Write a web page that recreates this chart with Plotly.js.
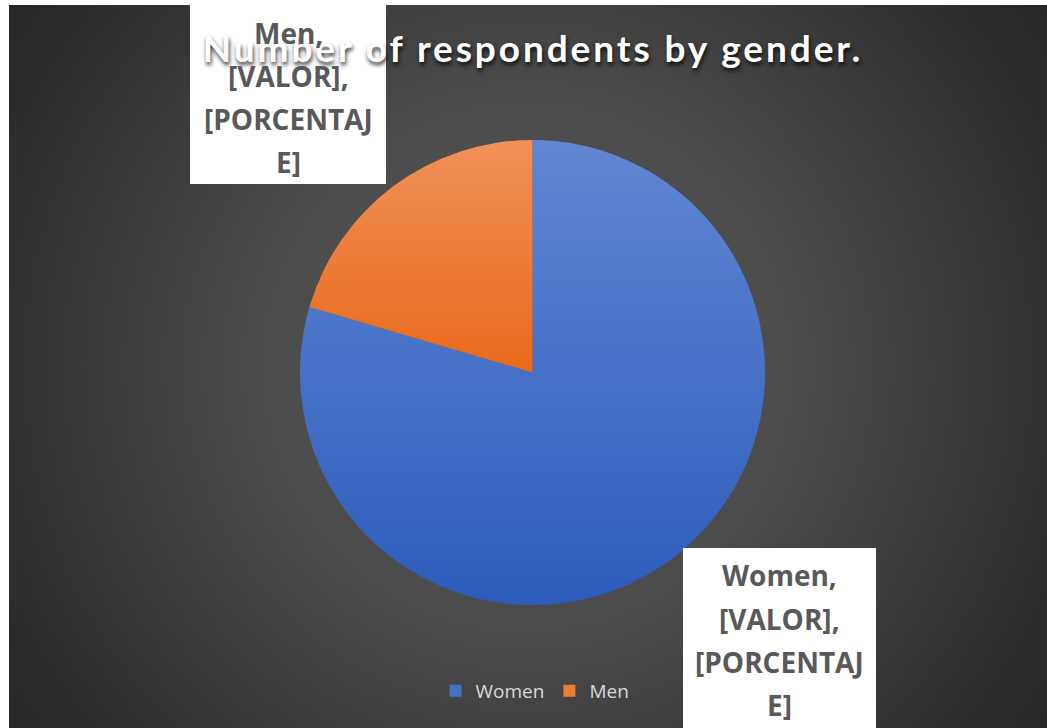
<!DOCTYPE html>
<html>
<head>
<meta charset="utf-8">
<script src="https://cdn.plot.ly/plotly-3.0.1.min.js"></script>
<style>
  html, body { margin: 0; padding: 0; background: #ffffff; }
  #wrap { position: relative; width: 1047px; height: 728px; overflow: hidden; background: #ffffff; }
  #bg { position: absolute; left: 9px; top: 5px; right: 0; bottom: 0;
        background: radial-gradient(circle farthest-corner at 50% 50%, #5a5a5a 0%, #4b4b4b 42%, #262626 100%); }
  #chart { position: absolute; left: 0; top: 0; width: 1047px; height: 728px; }
</style>
</head>
<body>
<div id="wrap">
  <div id="bg"></div>
  <div id="chart"></div>
</div>
<script>
// ---- data ----
var categories = ['Women', 'Men'];
var respondents = [35, 9];
var sliceColors = ['#4472C4', '#ED7D31'];
var labelPlaceholders = ['[VALOR],', '[PORCENTAJ', 'E]'];
var chartTitle = 'Number of respondents by gender.';

var W = 1047, H = 728;
function px(x) { return x / W; }
function py(y) { return 1 - y / H; }

var trace = {
  type: 'pie',
  labels: categories,
  values: respondents,
  sort: false,
  direction: 'clockwise',
  rotation: 0,
  textinfo: 'none',
  hoverinfo: 'label+value+percent',
  marker: { colors: sliceColors, line: { width: 0 } },
  domain: { x: [px(300), px(765)], y: [py(605), py(140)] },
  showlegend: true
};

// label boxes (white) and their lines
var boxes = [
  { cat: 1, x0: 190, x1: 386, y0: -2, y1: 184, lineY: [33, 76, 119, 162] },
  { cat: 0, x0: 683, x1: 876, y0: 548, y1: 740, lineY: [575, 618.5, 662, 705] }
];
var shapes = [];
var annotations = [];
boxes.forEach(function (b) {
  shapes.push({
    type: 'rect', xref: 'paper', yref: 'paper', layer: 'above',
    x0: px(b.x0), x1: px(b.x1), y0: py(b.y1), y1: py(b.y0),
    fillcolor: '#ffffff', line: { width: 0 }
  });
  var lines = [categories[b.cat] + ','].concat(labelPlaceholders);
  lines.forEach(function (t, i) {
    annotations.push({
      xref: 'paper', yref: 'paper',
      x: px((b.x0 + b.x1) / 2), y: py(b.lineY[i]),
      xanchor: 'center', yanchor: 'middle',
      text: t, showarrow: false,
      font: { family: 'Open Sans', size: 28, weight: 700, color: '#595959' }
    });
  });
});

var layout = {
  width: W, height: H,
  margin: { l: 0, r: 0, t: 0, b: 0 },
  paper_bgcolor: 'rgba(0,0,0,0)',
  plot_bgcolor: 'rgba(0,0,0,0)',
  title: {
    text: chartTitle,
    xref: 'container', yref: 'container',
    x: 533 / W, y: 1 - 49 / H, xanchor: 'center', yanchor: 'middle',
    font: { family: 'Lato', size: 37, weight: 700, color: '#ffffff',
            shadow: '1px 3px 4px rgba(0,0,0,0.8)' }
  },
  legend: {
    orientation: 'h',
    x: px(535), xanchor: 'center',
    y: py(691), yanchor: 'middle',
    font: { family: 'Open Sans', size: 19, color: '#d9d9d9' },
    bgcolor: 'rgba(0,0,0,0)'
  },
  shapes: shapes,
  annotations: annotations
};

Plotly.newPlot('chart', [trace], layout, { displayModeBar: false, staticPlot: true }).then(function (gd) {
  var t = gd.querySelector('.gtitle');
  if (t) {
    // letter spacing of the title, like the reference
    t.style.letterSpacing = '2.9px';
    // label texts sit on top of the title in the reference:
    // put the annotation groups after the title, in the title's layer
    var layer = t.parentNode;
    while (layer && layer.parentNode && layer.parentNode.tagName && layer.parentNode.tagName.toLowerCase() !== 'svg') {
      layer = layer.parentNode;
    }
    if (layer) {
      var anns = gd.querySelectorAll('.annotation');
      anns.forEach(function (a) { layer.appendChild(a); });
    }
  }
  // vertical gradients on the slices (Excel style)
  var svg = gd.querySelector('svg.main-svg');
  var ns = 'http://www.w3.org/2000/svg';
  var defs = svg.querySelector('defs') || svg.insertBefore(document.createElementNS(ns, 'defs'), svg.firstChild);
  var grads = [['gradWomen', '#6187d2', '#2c5cbc'], ['gradMen', '#f0915a', '#e9691a']];
  grads.forEach(function (g) {
    var lg = document.createElementNS(ns, 'linearGradient');
    lg.setAttribute('id', g[0]);
    lg.setAttribute('x1', '0'); lg.setAttribute('y1', '0');
    lg.setAttribute('x2', '0'); lg.setAttribute('y2', '1');
    var s1 = document.createElementNS(ns, 'stop');
    s1.setAttribute('offset', '0'); s1.setAttribute('stop-color', g[1]);
    var s2 = document.createElementNS(ns, 'stop');
    s2.setAttribute('offset', '1'); s2.setAttribute('stop-color', g[2]);
    lg.appendChild(s1); lg.appendChild(s2);
    defs.appendChild(lg);
  });
  var paths = gd.querySelectorAll('.pielayer .slice path.surface');
  paths.forEach(function (p, i) {
    p.style.fill = 'url(#' + grads[i][0] + ')';
  });
});
</script>
</body>
</html>
